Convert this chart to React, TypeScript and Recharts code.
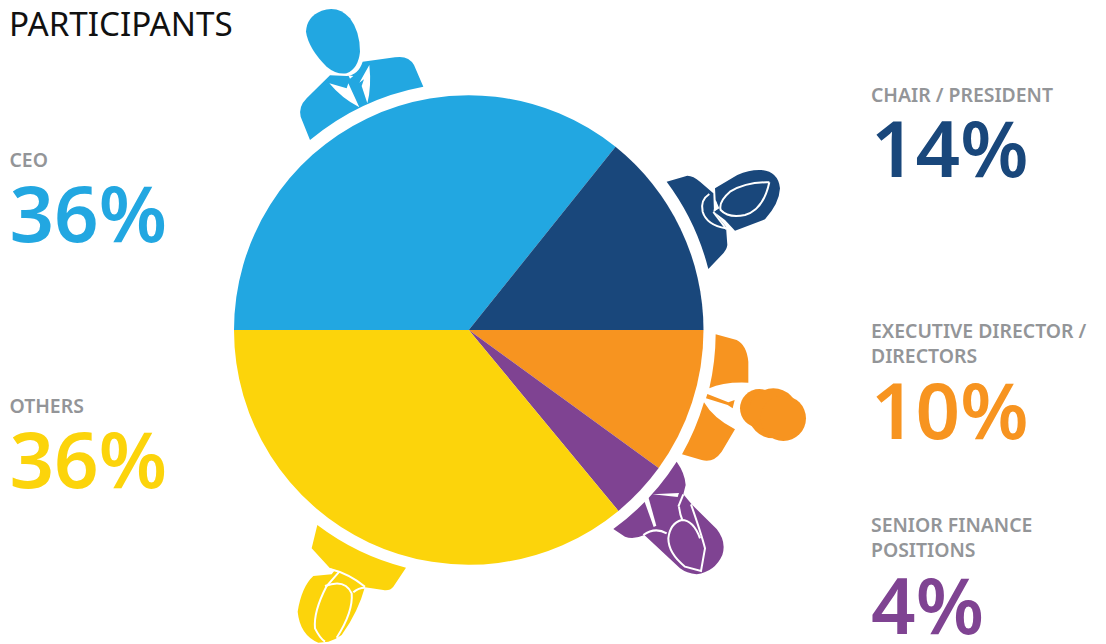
import * as React from "react"
import { PieChart, Pie, Cell } from "recharts"

const roles = ["CEO", "CHAIR / PRESIDENT", "EXECUTIVE DIRECTOR / DIRECTORS", "SENIOR FINANCE POSITIONS", "OTHERS"]
const shares = [36, 14, 10, 4, 36]
// slice sizes as drawn, the printed shares are rounded
const sliceSizes = [35.75, 14.25, 10, 4, 36]
const colors = ["#22a7e1", "#19477b", "#f79420", "#7f4392", "#fcd40b"]

const pieData = roles.map((name, i) => ({ name, value: sliceSizes[i] }))

const GREY = "#939598"
const LABEL_FONT = "'Noto Sans', sans-serif"

// label blocks, in the same order as roles
const labelLines = [["CEO"], ["CHAIR / PRESIDENT"], ["EXECUTIVE DIRECTOR /", "DIRECTORS"], ["SENIOR FINANCE", "POSITIONS"], ["OTHERS"]]
const labelX = [9.5, 871, 871, 871, 9.5]
const labelY = [167, 102, 338, 532, 413]
const valueY = [242, 177, 439, 634, 488]

function Person({ x, y, color, body, lines = [], white = [] }: { x: number; y: number; color: string; body: string[]; lines?: string[]; white?: string[] }) {
  return (
    <g transform={`translate(${x},${y}) scale(${1 / 3})`}>
      {body.map((d, i) => <path key={i} d={d} fill={color} />)}
      {white.map((d, i) => <path key={i} d={d} fill="#fff" />)}
      {lines.map((d, i) => <path key={i} d={d} fill="none" stroke="#fff" strokeWidth={6} />)}
    </g>
  )
}

function People() {
  return (
    <svg width={1106} height={644} style={{ position: "absolute", left: 0, top: 0 }}>
      <Person
        x={280}
        y={0}
        color={colors[0]}
        body={[
          "M78,95 Q80,50 125,32 Q175,15 210,55 Q240,95 240,155 Q235,205 200,220 Q170,225 140,200 Q85,145 78,95 Z",
          "M90,420 A744,744 0 0 1 430,260 L402,195 Q385,165 345,172 L248,185 Q235,225 200,228 L150,226 L80,295 Q55,320 62,350 Z",
        ]}
        white={[
          "M148,250 L200,265 L205,250 L238,322 Q185,295 148,250 Z",
          "M268,195 Q275,260 262,310 L245,258 L252,238 L238,248 Z",
          "M205,226 L220,228 L210,236 Z",
        ]}
      />
      <Person
        x={650}
        y={160}
        color={colors[1]}
        body={[
          "M50,65 L112,47 Q130,47 150,65 L190,100 L192,155 L228,200 L232,255 Q230,270 215,285 L175,327 A741,741 0 0 0 50,65 Z",
          "M195,85 L262,45 Q300,28 335,30 Q385,35 390,85 Q388,130 345,178 L255,212 L225,180 L192,155 L205,145 L197,120 Z",
        ]}
        white={["M197,120 L208,145 L190,156 Z"]}
        lines={[
          "M358,67 Q290,65 240,95 Q205,125 212,150 Q235,175 285,165 Q340,150 358,67",
          "M178,102 Q150,120 158,155 Q170,195 228,205",
          "M190,156 L230,208",
        ]}
      />
      <Person
        x={680}
        y={325}
        color={colors[2]}
        body={[
          "M107,28 L170,45 Q200,60 205,110 L205,173 Q130,170 88,190 A740,740 0 0 0 107,28 Z",
          "M72,232 Q100,280 165,313 L125,380 Q100,415 65,405 L6,388 A740,740 0 0 0 72,232 Z",
          "M78,220 L82,207 L145,232 L164,225 L158,250 L143,240 Z",
          "M180,250 A58,58 0 1 1 296,250 A58,58 0 1 1 180,250 Z",
          "M205,265 A75,75 0 1 1 355,265 A75,75 0 1 1 205,265 Z",
          "M242,280 A68,68 0 1 1 378,280 A68,68 0 1 1 242,280 Z",
        ]}
      />
      <Person
        x={605}
        y={455}
        color={colors[3]}
        body={[
          "M25,222 A738,738 0 0 0 215,20 Q240,55 242,90 L235,118 L262,150 L335,222 Q365,260 352,300 Q330,350 275,358 Q245,355 225,340 L118,240 Q85,255 60,245 Z",
        ]}
        white={[
          "M142,118 L222,114 L218,126 Z",
          "M118,138 L130,126 L154,212 L146,216 Z",
        ]}
        lines={[
          "M115,240 Q150,215 185,235",
          "M258,148 Q290,240 300,280 L288,348 L240,335 Q190,295 190,250 Q195,205 230,195 Q265,195 285,250",
          "M222,155 Q225,180 232,195",
          "M235,118 L220,155",
        ]}
      />
      <Person
        x={285}
        y={515}
        color={colors[4]}
        body={[
          "M97,30 A740,740 0 0 0 363,158 L325,215 Q315,228 295,225 L240,217 Q200,180 135,160 L80,100 Z",
          "M140,178 L85,183 Q50,215 38,290 Q45,360 100,383 L130,380 Q150,375 170,360 Q220,290 240,215 Q210,180 150,165 Z",
        ]}
        lines={[
          "M163,170 L125,213 Q85,290 90,340 Q105,370 120,380",
          "M120,213 Q180,190 200,235 Q205,290 155,368",
          "M135,162 Q190,175 240,215",
          "M205,232 Q220,218 240,218",
        ]}
      />
      <text x={9} y={36} fontFamily={LABEL_FONT} fontSize={33.2} fill="#111">PARTICIPANTS</text>
      {roles.map((role, i) => (
        <g key={role}>
          {labelLines[i].map((line, j) => (
            <text key={line} x={labelX[i]} y={labelY[i] + j * 25} fontFamily={LABEL_FONT} fontSize={19.4} fontWeight={600} fill={GREY}>{line}</text>
          ))}
          <text x={labelX[i]} y={valueY[i]} fontFamily={LABEL_FONT} fontSize={78} fontWeight={600} fill={colors[i]}>{shares[i]}%</text>
        </g>
      ))}
    </svg>
  )
}

export default function App() {
  return (
    <div style={{ position: "absolute", left: 0, top: 0, width: 1106, height: 644, background: "#fff", overflow: "hidden" }}>
      <PieChart width={1106} height={644} margin={{ top: 0, right: 0, bottom: 0, left: 0 }}>
        <Pie
          data={pieData}
          dataKey="value"
          nameKey="name"
          cx={468.75}
          cy={330}
          outerRadius={234.75}
          startAngle={180}
          endAngle={-180}
          stroke="none"
          isAnimationActive={false}
        >
          {pieData.map((d, i) => <Cell key={d.name} fill={colors[i]} />)}
        </Pie>
      </PieChart>
      <People />
    </div>
  )
}
